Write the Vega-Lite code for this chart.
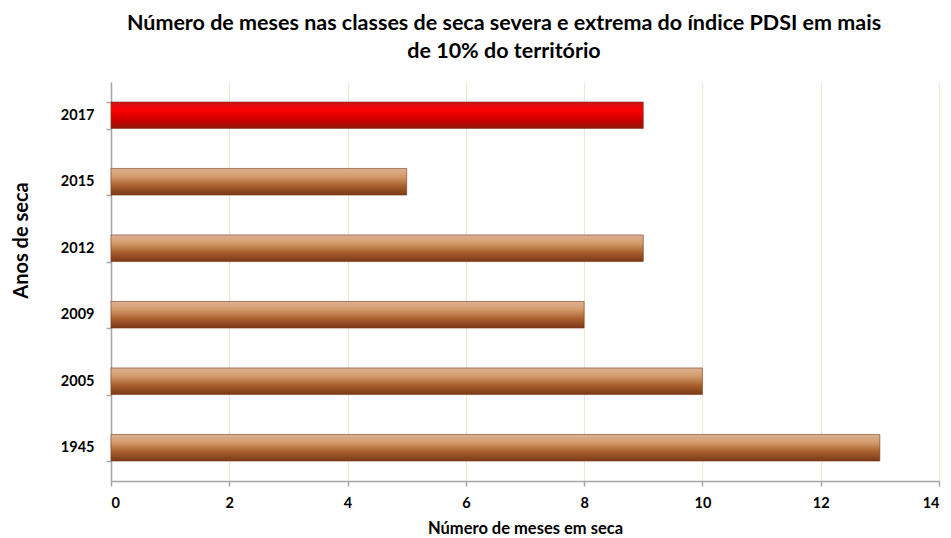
{
  "$schema": "https://vega.github.io/schema/vega-lite/v6.json",
  "autosize": "none",
  "width": 828,
  "height": 399,
  "padding": {"left": 111, "top": 82, "right": 12, "bottom": 57},
  "background": "white",
  "title": {
    "text": ["Número de meses nas classes de seca severa e extrema do índice PDSI em mais", "de 10% do território"],
    "font": "Lato",
    "fontSize": 21.5,
    "fontWeight": "bold",
    "color": "#000000",
    "anchor": "middle",
    "frame": "group",
    "dx": -21,
    "offset": 12,
    "lineHeight": 28
  },
  "config": {
    "view": {"stroke": null},
    "font": "Lato"
  },
  "data": {
    "values": [
      {"ano": "2017", "meses": 9},
      {"ano": "2015", "meses": 5},
      {"ano": "2012", "meses": 9},
      {"ano": "2009", "meses": 8},
      {"ano": "2005", "meses": 10},
      {"ano": "1945", "meses": 13}
    ]
  },
  "mark": {"type": "bar", "stroke": "#7a3a1a", "strokeWidth": 0.6},
  "encoding": {
    "y": {
      "field": "ano",
      "type": "nominal",
      "sort": ["2017", "2015", "2012", "2009", "2005", "1945"],
      "scale": {"paddingInner": 0.6, "paddingOuter": 0.3},
      "axis": {
        "title": "Anos de seca",
        "titleFont": "Lato",
        "titleFontSize": 20,
        "titleFontWeight": "bold",
        "titleColor": "#000000",
        "titleY": 158,
        "titleX": -80,
        "titleAngle": -90,
        "titleAlign": "center",
        "labelFont": "Lato",
        "labelFontSize": 14.5,
        "labelFontWeight": "bold",
        "labelColor": "#000000",
        "labelPadding": 12,
        "domainColor": "#a6a6a6",
        "domainWidth": 1.5,
        "tickColor": "#a6a6a6",
        "tickSize": 5,
        "tickWidth": 1.5,
        "tickBand": "extent",
        "grid": false
      }
    },
    "x": {
      "field": "meses",
      "type": "quantitative",
      "scale": {"domain": [0, 14], "nice": false},
      "axis": {
        "values": [0, 2, 4, 6, 8, 10, 12, 14],
        "title": "Número de meses em seca",
        "titleFont": "Lato",
        "titleFontSize": 16.5,
        "titleFontWeight": "bold",
        "titleColor": "#000000",
        "titlePadding": 11,
        "labelFont": "Lato",
        "labelFontSize": 14.5,
        "labelFontWeight": "bold",
        "labelColor": "#000000",
        "labelPadding": 10,
        "domainColor": "#a6a6a6",
        "domainWidth": 1.5,
        "tickColor": "#a6a6a6",
        "tickSize": 5,
        "tickWidth": 1.5,
        "grid": true,
        "gridColor": "#f3e7d3",
        "gridWidth": 1.2
      }
    },
    "fill": {
      "condition": {
        "test": "datum.ano === '2017'",
        "value": {
          "gradient": "linear",
          "x1": 0, "y1": 0, "x2": 0, "y2": 1,
          "stops": [
            {"offset": 0, "color": "#c8141a"},
            {"offset": 0.3, "color": "#ff0000"},
            {"offset": 0.7, "color": "#c80000"},
            {"offset": 1, "color": "#8a1a08"}
          ]
        }
      },
      "value": {
        "gradient": "linear",
        "x1": 0, "y1": 0, "x2": 0, "y2": 1,
        "stops": [
          {"offset": 0, "color": "#dcb094"},
          {"offset": 0.3, "color": "#d49c6c"},
          {"offset": 0.65, "color": "#a9602e"},
          {"offset": 1, "color": "#7a3816"}
        ]
      }
    }
  }
}
